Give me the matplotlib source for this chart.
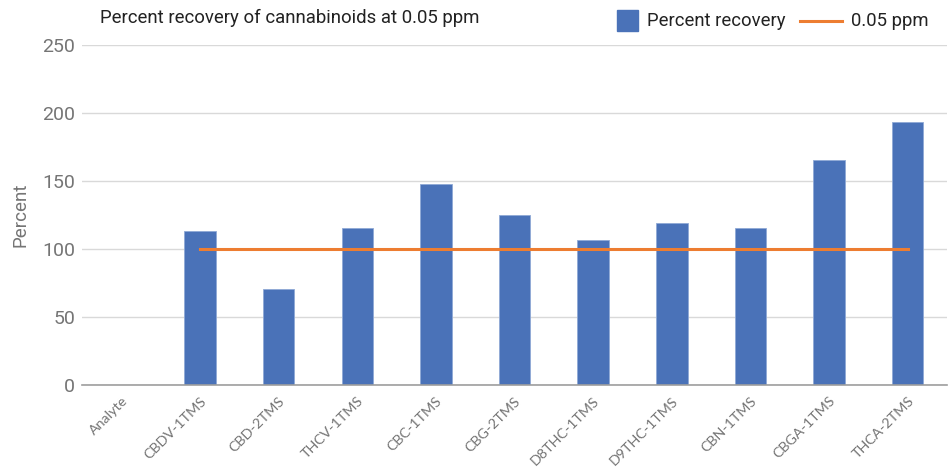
import matplotlib.pyplot as plt
from matplotlib.patches import Rectangle
from matplotlib.lines import Line2D
import numpy as np

plt.rcParams['font.family'] = ['Roboto', 'DejaVu Sans']

analytes = ["Analyte", "CBDV-1TMS", "CBD-2TMS", "THCV-1TMS", "CBC-1TMS", "CBG-2TMS",
            "D8THC-1TMS", "D9THC-1TMS", "CBN-1TMS", "CBGA-1TMS", "THCA-2TMS"]
recovery = [np.nan, 113.2, 70.6, 115.4, 148.0, 125.0, 106.5, 119.1, 115.3, 165.2, 193.4]
reference = [np.nan, 100, 100, 100, 100, 100, 100, 100, 100, 100, 100]
yticks = [0, 50, 100, 150, 200, 250]

blue = "#4a72b8"
orange = "#ed7d31"
gray = "#757575"
W, H = 951, 467

fig = plt.figure(figsize=(W / 100, H / 100), dpi=100)
ax = fig.add_axes([82 / W, 82 / H, 865 / W, 340 / H])

x = np.arange(len(analytes))
ax.bar(x, recovery, width=0.4, color=blue, edgecolor="#8fa9d6", linewidth=0.6, zorder=2)
ax.plot(x, reference, color=orange, linewidth=2.2, zorder=3)

ax.set_xlim(-0.5, len(analytes) - 0.5)
ax.set_ylim(0, 250)
ax.set_yticks(yticks)
ax.set_yticklabels([str(t) for t in yticks], fontsize=14, color=gray)
ax.set_xticks(x)
ax.set_xticklabels(analytes, rotation=45, ha="right", rotation_mode="anchor",
                   fontsize=10.3, color=gray, family=["Lato", "DejaVu Sans"])
ax.tick_params(axis="y", length=0, pad=5)
ax.tick_params(axis="x", length=0, pad=7)

ax.grid(axis="y", color="#d9d9d9", linewidth=1, zorder=0)
for side in ["top", "right", "left"]:
    ax.spines[side].set_visible(False)
ax.spines["bottom"].set_color("#9e9e9e")
ax.spines["bottom"].set_linewidth(1.2)
ax.spines["bottom"].set_zorder(4)

ax.set_ylabel("Percent", fontsize=13.5, color=gray, labelpad=9)

fig.text(100 / W, 1 - 18 / H, "Percent recovery of cannabinoids at 0.05 ppm",
         fontsize=13.4, color="#222222", va="center", ha="left")

# legend drawn by hand at the top right
ly = 1 - 21 / H
fig.add_artist(Rectangle((617 / W, 1 - 31 / H), 21 / W, 21 / H, color=blue,
                         transform=fig.transFigure))
fig.text(647 / W, ly, "Percent recovery", fontsize=13.3, color="#222222", va="center")
fig.add_artist(Line2D([800 / W, 842 / W], [ly, ly], color=orange, linewidth=2.2,
                      transform=fig.transFigure))
fig.text(851 / W, ly, "0.05 ppm", fontsize=13.3, color="#222222", va="center")

fig.savefig("out.png", dpi=100)
